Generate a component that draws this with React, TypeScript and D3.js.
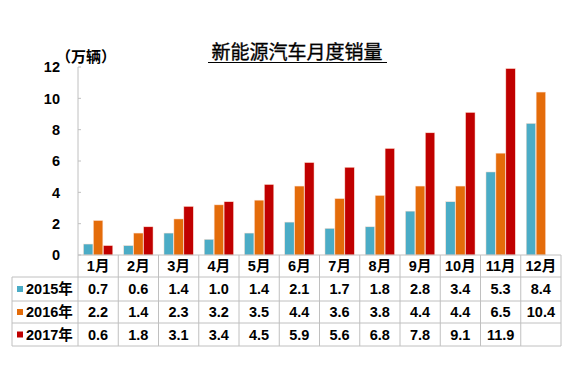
import React from 'react';
import * as d3 from 'd3';

const months = ['1月', '2月', '3月', '4月', '5月', '6月', '7月', '8月', '9月', '10月', '11月', '12月'];
const seriesNames = ['2015年', '2016年', '2017年'];
const sales2015 = [0.7, 0.6, 1.4, 1.0, 1.4, 2.1, 1.7, 1.8, 2.8, 3.4, 5.3, 8.4];
const sales2016 = [2.2, 1.4, 2.3, 3.2, 3.5, 4.4, 3.6, 3.8, 4.4, 4.4, 6.5, 10.4];
const sales2017: (number | null)[] = [0.6, 1.8, 3.1, 3.4, 4.5, 5.9, 5.6, 6.8, 7.8, 9.1, 11.9, null];
const yTicks = [0, 2, 4, 6, 8, 10, 12];
const colors = ['#4bacc6', '#e46c0a', '#c00000'];

const W = 576;
const H = 365;
const FONT = '"Liberation Sans", Arial, "Noto Sans CJK SC", sans-serif';

const App = () => {
  const margin = { left: 78, right: 15, top: 67, bottom: 110 };
  const plotBottom = 255;
  const tableLeft = 12;
  const rowH = [22, 24, 22, 23]; // header + 3 series rows

  const x = d3.scaleBand<string>()
    .domain(months)
    .range([margin.left, 561]);

  const inner = d3.scaleBand<string>()
    .domain(seriesNames)
    .range([0, x.bandwidth()])
    .paddingOuter(0.55)
    .paddingInner(0.05);

  const y = d3.scaleLinear()
    .domain([0, 12])
    .range([plotBottom, margin.top]);

  const all = [sales2015, sales2016, sales2017];

  // row y boundaries for the table
  const rowY: number[] = [plotBottom];
  rowH.forEach((h, i) => rowY.push(rowY[i] + h));

  const grid = '#c0c0c0';

  return (
    <svg width={W} height={H} style={{ position: 'fixed', left: 0, top: 0, background: '#fff' }} fontFamily={FONT}>
      {/* title */}
      <text x={297} y={59} textAnchor="middle" fontSize={19} fill="#000" stroke="#000" strokeWidth={0.35}>新能源汽车月度销量</text>
      <line x1={208} x2={387} y1={62.5} y2={62.5} stroke="#000" strokeWidth={1.2} />

      {/* unit */}
      <text x={56} y={62} fontSize={15} fontWeight="bold" fill="#000">（万辆）</text>

      {/* y axis */}
      <line x1={margin.left} x2={margin.left} y1={y(12)} y2={plotBottom} stroke={grid} />
      {yTicks.map((t) => (
        <g key={t}>
          <line x1={margin.left} x2={margin.left + 3} y1={y(t)} y2={y(t)} stroke={grid} />
          <text x={60} y={y(t)} dy="0.36em" textAnchor="end" fontSize={14.5} fontWeight="bold" fill="#000">{t}</text>
        </g>
      ))}

      {/* bars */}
      {months.map((m, i) => (
        <g key={m} transform={`translate(${x(m)},0)`}>
          {all.map((s, k) => {
            const v = s[i];
            if (v == null) return null;
            return (
              <rect
                key={k}
                x={inner(seriesNames[k])}
                y={y(v)}
                width={inner.bandwidth()}
                height={plotBottom - y(v)}
                fill={colors[k]}
                stroke="#fde0d0"
                strokeWidth={0.5}
              />
            );
          })}
        </g>
      ))}

      {/* table grid */}
      <line x1={margin.left} x2={561} y1={plotBottom} y2={plotBottom} stroke={grid} />
      {rowY.slice(1).map((ry, i) => (
        <line key={i} x1={tableLeft} x2={561} y1={ry} y2={ry} stroke={grid} />
      ))}
      <line x1={tableLeft} x2={tableLeft} y1={rowY[1]} y2={rowY[4]} stroke={grid} />
      {months.map((m) => (
        <line key={m} x1={x(m)} x2={x(m)} y1={plotBottom} y2={rowY[4]} stroke={grid} />
      ))}
      <line x1={561} x2={561} y1={plotBottom} y2={rowY[4]} stroke={grid} />

      {/* header row */}
      {months.map((m) => (
        <text key={m} x={(x(m) ?? 0) + x.bandwidth() / 2} y={(rowY[0] + rowY[1]) / 2} dy="0.36em"
          textAnchor="middle" fontSize={14.5} fontWeight="bold" fill="#000">{m}</text>
      ))}

      {/* series rows */}
      {all.map((s, k) => {
        const cy = (rowY[k + 1] + rowY[k + 2]) / 2;
        return (
          <g key={k}>
            <rect x={17} y={cy - 3} width={6} height={6} fill={colors[k]} />
            <text x={26} y={cy} dy="0.36em" fontSize={14.5} fontWeight="bold" fill="#000">{seriesNames[k]}</text>
            {months.map((m, i) => (
              s[i] == null ? null : (
                <text key={m} x={(x(m) ?? 0) + x.bandwidth() / 2} y={cy} dy="0.36em"
                  textAnchor="middle" fontSize={14.5} fontWeight="bold" fill="#000">{(s[i] as number).toFixed(1)}</text>
              )
            ))}
          </g>
        );
      })}
    </svg>
  );
};

export default App;
